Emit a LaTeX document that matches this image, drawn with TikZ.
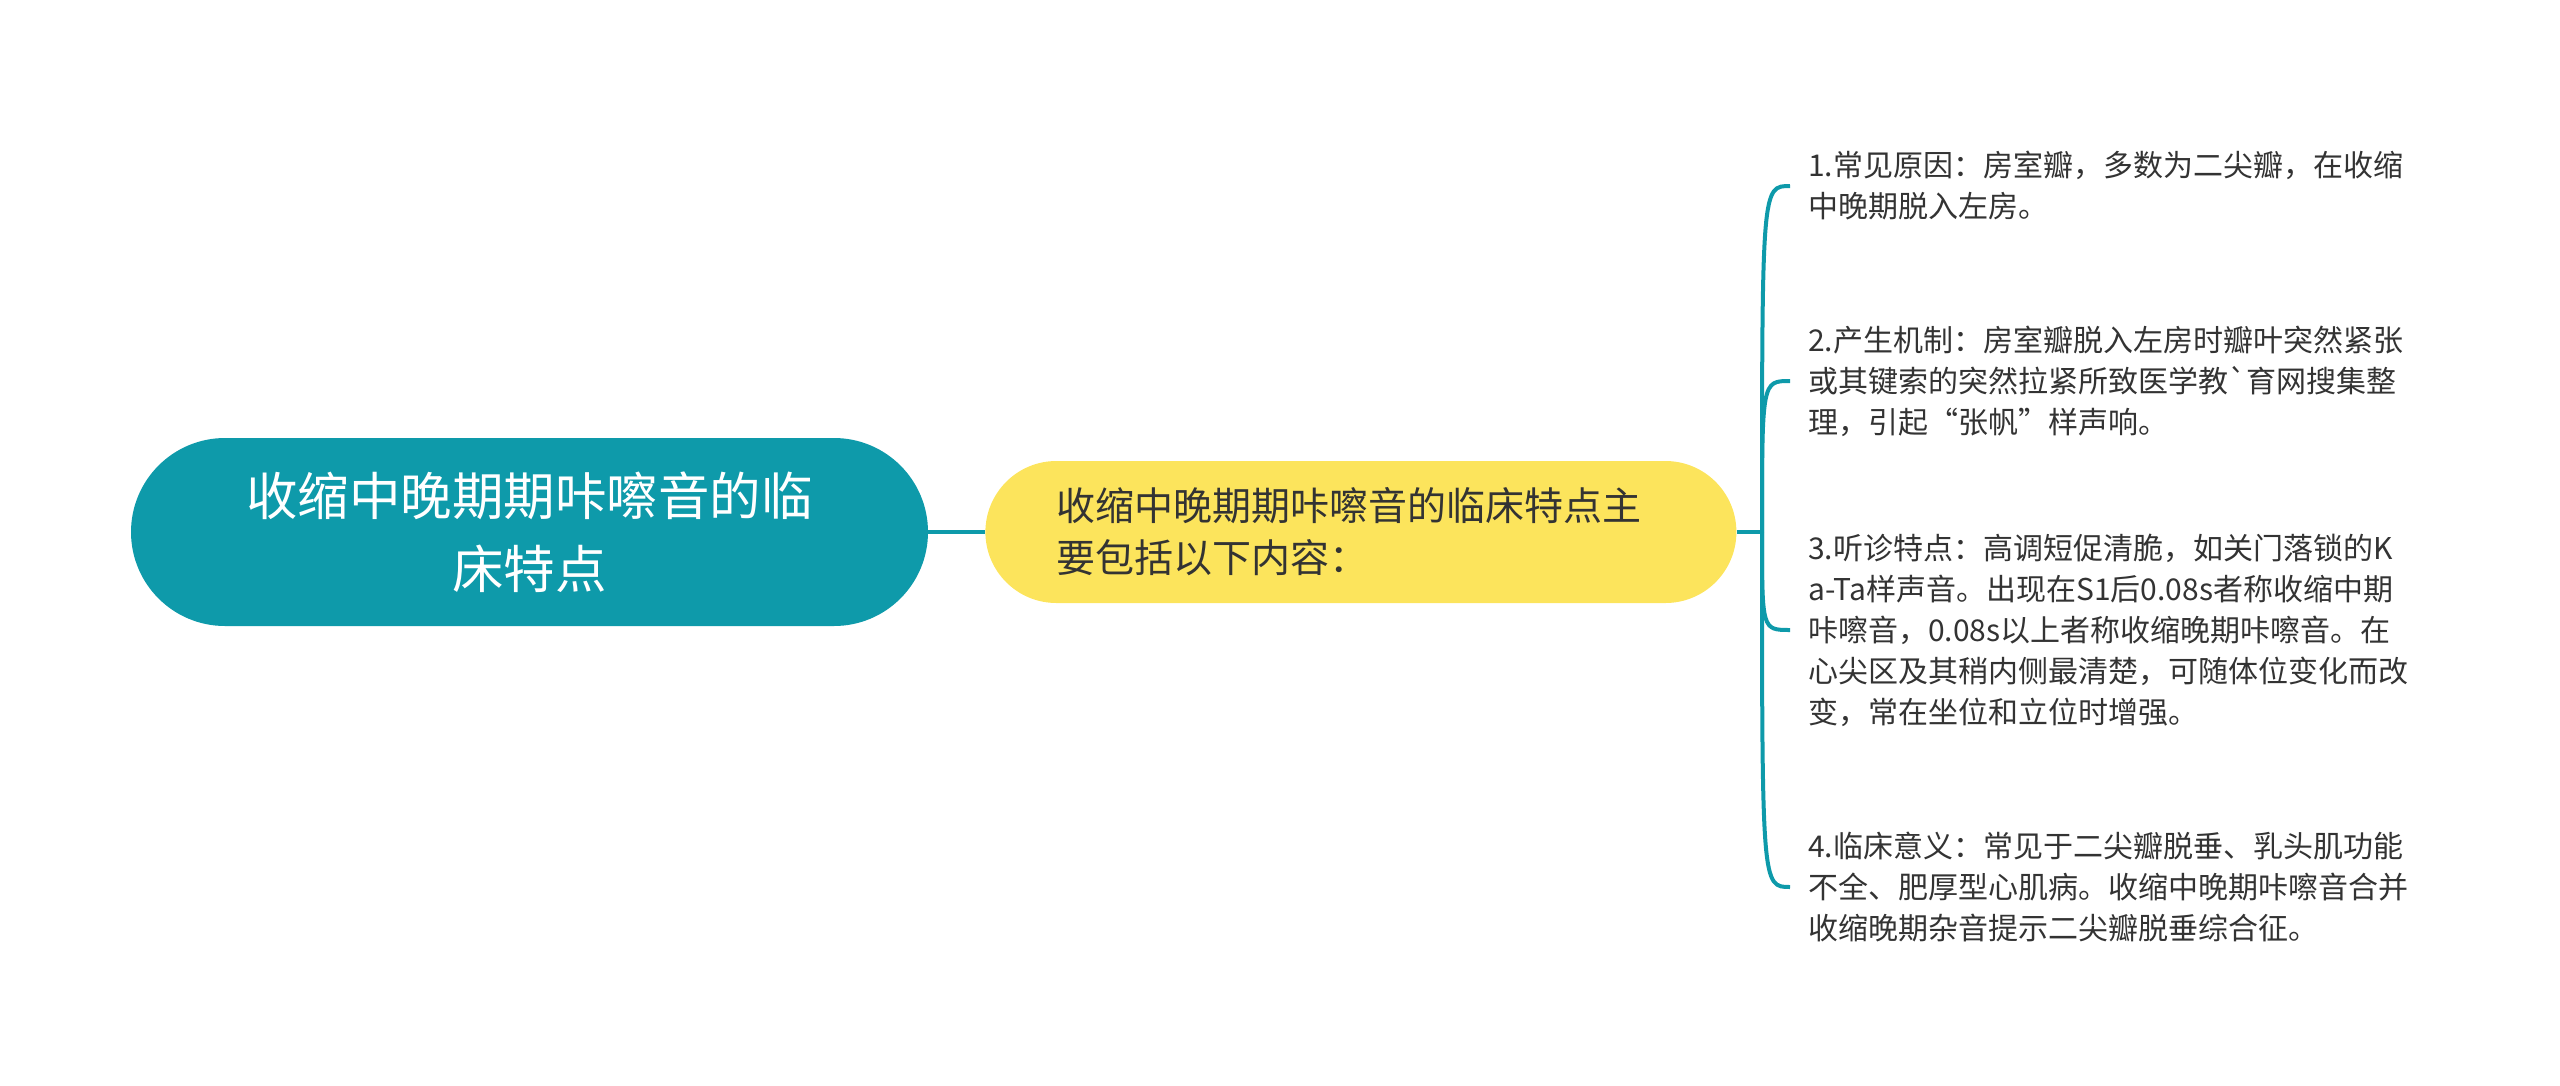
\documentclass[tikz,border=0pt]{standalone}
\usepackage{fontspec}
\setmainfont{Noto Sans CJK SC}[Ligatures=TeXOff]
\usetikzlibrary{positioning}
\definecolor{maincolor}{RGB}{14,154,170}
\definecolor{subcolor}{RGB}{252,228,92}
\definecolor{textcolor}{RGB}{51,51,51}

\begin{document}
\begin{tikzpicture}[x=1pt, y=-1pt,
    root/.style={fill=maincolor, text=white, rounded corners=94pt, minimum height=188pt,
        text width=575pt, inner xsep=111pt, align=center, font=\fontsize{51.5}{73}\selectfont},
    topic/.style={fill=subcolor, text=textcolor, rounded corners=71pt, minimum height=142pt,
        text width=609pt, inner xsep=71pt, align=left, font=\fontsize{39}{52}\selectfont},
    leaf/.style={anchor=west, text=textcolor, inner xsep=18pt, align=left,
        font=\fontsize{30}{41}\selectfont},
    link/.style={draw=maincolor, line width=4pt}]
    \useasboundingbox (0,0) rectangle (2560,1085);

    \node[root] (R) at (529.5,532) {收缩中晚期期咔嚓音的临\\床特点};
    \node[topic, right=57pt of R] (T) {收缩中晚期期咔嚓音的临床特点主\\要包括以下内容：};

    \node[leaf] (L1) at (1790,186) {1.常见原因：房室瓣，多数为二尖瓣，在收缩\\中晚期脱入左房。};
    \node[leaf] (L2) at (1790,381) {2.产生机制：房室瓣脱入左房时瓣叶突然紧张\\或其键索的突然拉紧所致医学教`育网搜集整\\理，引起“张帆”样声响。};
    \node[leaf] (L3) at (1790,630) {3.听诊特点：高调短促清脆，如关门落锁的K\\a-Ta样声音。出现在S1后0.08s者称收缩中期\\咔嚓音，0.08s以上者称收缩晚期咔嚓音。在\\心尖区及其稍内侧最清楚，可随体位变化而改\\变，常在坐位和立位时增强。};
    \node[leaf] (L4) at (1790,887) {4.临床意义：常见于二尖瓣脱垂、乳头肌功能\\不全、肥厚型心肌病。收缩中晚期咔嚓音合并\\收缩晚期杂音提示二尖瓣脱垂综合征。};

    % branching point of the bracket
    \coordinate (J) at (1762,532);

    \path[link] (R) -- (T);
    \path[link] (T.east) -- (J);
    \foreach \leaf in {L1,L2,L3,L4}
        \path[link] (J) .. controls (J |- \leaf.west) .. (\leaf.west);
\end{tikzpicture}
\end{document}
